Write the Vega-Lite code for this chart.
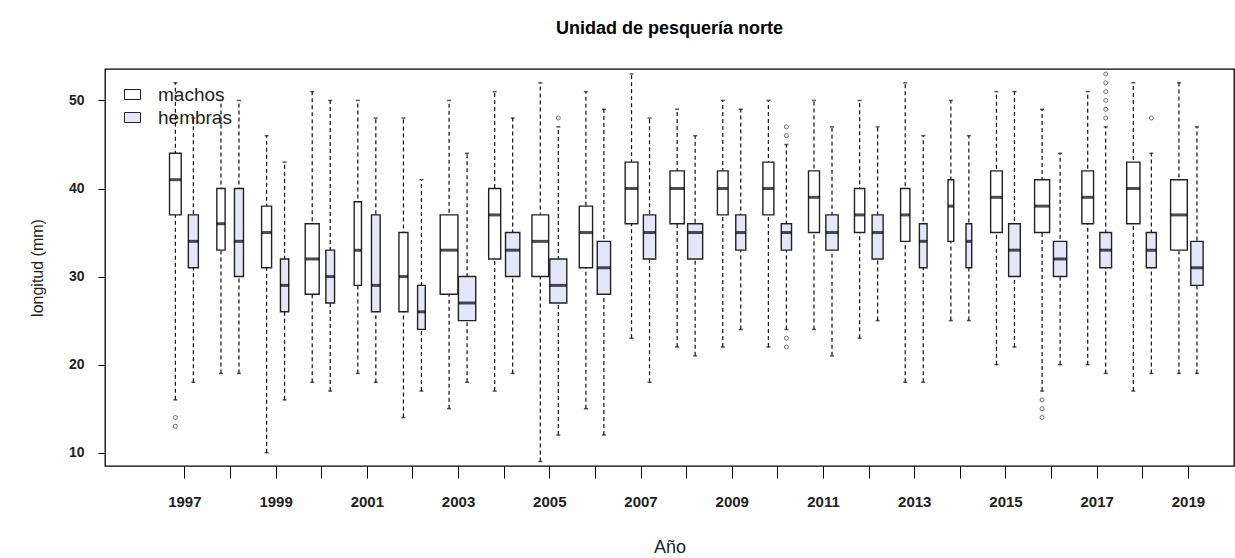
{
  "$schema": "https://vega.github.io/schema/vega-lite/v6.json",
  "width": 1129,
  "height": 397,
  "autosize": {"type": "none"},
  "padding": {"left": 105, "top": 69, "right": 1, "bottom": 92},
  "background": "white",
  "title": {
    "text": "Unidad de pesquería norte",
    "font": "Liberation Sans",
    "fontSize": 18,
    "fontWeight": "bold",
    "color": "black",
    "anchor": "middle",
    "frame": "group",
    "offset": 31
  },
  "config": {
    "view": {"stroke": "black", "strokeWidth": 1.3},
    "font": "Liberation Sans",
    "axisY": {
      "tickCount": 5,
      "domain": false,
      "grid": false,
      "tickColor": "black",
      "tickSize": 7,
      "tickWidth": 1,
      "labelFont": "Liberation Sans",
      "labelFontWeight": "bold",
      "labelFontSize": 14,
      "labelColor": "#222",
      "labelPadding": 14,
      "titleFont": "Liberation Sans",
      "titleFontWeight": "normal",
      "titleFontSize": 16,
      "titleColor": "#222",
      "titlePadding": 23
    },
    "axisX": {
      "domain": false,
      "grid": false,
      "tickColor": "black",
      "tickSize": 12,
      "tickWidth": 1,
      "labelFont": "Liberation Sans",
      "labelFontWeight": "bold",
      "labelFontSize": 15,
      "labelColor": "#222",
      "labelPadding": 16,
      "labelFlush": false,
      "labelOverlap": false,
      "titleFont": "Liberation Sans",
      "titleFontWeight": "normal",
      "titleFontSize": 18,
      "titleColor": "#222",
      "titlePadding": 29
    }
  },
  "datasets": {
    "cajas": [
      {"anio": 1997, "sexo": "machos", "lo": 16, "q1": 37, "med": 41, "q3": 44, "hi": 52, "n": 422},
      {"anio": 1997, "sexo": "hembras", "lo": 18, "q1": 31, "med": 34, "q3": 37, "hi": 48, "n": 309},
      {"anio": 1998, "sexo": "machos", "lo": 19, "q1": 33, "med": 36, "q3": 40, "hi": 50, "n": 213},
      {"anio": 1998, "sexo": "hembras", "lo": 19, "q1": 30, "med": 34, "q3": 40, "hi": 50, "n": 250},
      {"anio": 1999, "sexo": "machos", "lo": 10, "q1": 31, "med": 35, "q3": 38, "hi": 46, "n": 309},
      {"anio": 1999, "sexo": "hembras", "lo": 16, "q1": 26, "med": 29, "q3": 32, "hi": 43, "n": 213},
      {"anio": 2000, "sexo": "machos", "lo": 18, "q1": 28, "med": 32, "q3": 36, "hi": 51, "n": 605},
      {"anio": 2000, "sexo": "hembras", "lo": 17, "q1": 27, "med": 30, "q3": 33, "hi": 50, "n": 234},
      {"anio": 2001, "sexo": "machos", "lo": 19, "q1": 29, "med": 33, "q3": 38.5, "hi": 50, "n": 164},
      {"anio": 2001, "sexo": "hembras", "lo": 18, "q1": 26, "med": 29, "q3": 37, "hi": 48, "n": 234},
      {"anio": 2002, "sexo": "machos", "lo": 14, "q1": 26, "med": 30, "q3": 35, "hi": 48, "n": 250},
      {"anio": 2002, "sexo": "hembras", "lo": 17, "q1": 24, "med": 26, "q3": 29, "hi": 41, "n": 183},
      {"anio": 2003, "sexo": "machos", "lo": 15, "q1": 28, "med": 33, "q3": 37, "hi": 50, "n": 967},
      {"anio": 2003, "sexo": "hembras", "lo": 18, "q1": 25, "med": 27, "q3": 30, "hi": 44, "n": 924},
      {"anio": 2004, "sexo": "machos", "lo": 17, "q1": 32, "med": 37, "q3": 40, "hi": 51, "n": 444},
      {"anio": 2004, "sexo": "hembras", "lo": 19, "q1": 30, "med": 33, "q3": 35, "hi": 48, "n": 631},
      {"anio": 2005, "sexo": "machos", "lo": 9, "q1": 30, "med": 34, "q3": 37, "hi": 52, "n": 861},
      {"anio": 2005, "sexo": "hembras", "lo": 12, "q1": 27, "med": 29, "q3": 32, "hi": 47, "n": 892},
      {"anio": 2006, "sexo": "machos", "lo": 15, "q1": 31, "med": 35, "q3": 38, "hi": 51, "n": 546},
      {"anio": 2006, "sexo": "hembras", "lo": 12, "q1": 28, "med": 31, "q3": 34, "hi": 49, "n": 546},
      {"anio": 2007, "sexo": "machos", "lo": 23, "q1": 36, "med": 40, "q3": 43, "hi": 53, "n": 498},
      {"anio": 2007, "sexo": "hembras", "lo": 18, "q1": 32, "med": 35, "q3": 37, "hi": 48, "n": 467},
      {"anio": 2008, "sexo": "machos", "lo": 22, "q1": 36, "med": 40, "q3": 42, "hi": 49, "n": 631},
      {"anio": 2008, "sexo": "hembras", "lo": 21, "q1": 32, "med": 35, "q3": 36, "hi": 46, "n": 694},
      {"anio": 2009, "sexo": "machos", "lo": 22, "q1": 37, "med": 40, "q3": 42, "hi": 50, "n": 353},
      {"anio": 2009, "sexo": "hembras", "lo": 24, "q1": 33, "med": 35, "q3": 37, "hi": 49, "n": 309},
      {"anio": 2010, "sexo": "machos", "lo": 22, "q1": 37, "med": 40, "q3": 43, "hi": 50, "n": 373},
      {"anio": 2010, "sexo": "hembras", "lo": 24, "q1": 33, "med": 35, "q3": 36, "hi": 45, "n": 327},
      {"anio": 2011, "sexo": "machos", "lo": 24, "q1": 35, "med": 39, "q3": 42, "hi": 50, "n": 373},
      {"anio": 2011, "sexo": "hembras", "lo": 21, "q1": 33, "med": 35, "q3": 37, "hi": 47, "n": 467},
      {"anio": 2012, "sexo": "machos", "lo": 23, "q1": 35, "med": 37, "q3": 40, "hi": 50, "n": 327},
      {"anio": 2012, "sexo": "hembras", "lo": 25, "q1": 32, "med": 35, "q3": 37, "hi": 47, "n": 373},
      {"anio": 2013, "sexo": "machos", "lo": 18, "q1": 34, "med": 37, "q3": 40, "hi": 52, "n": 267},
      {"anio": 2013, "sexo": "hembras", "lo": 18, "q1": 31, "med": 34, "q3": 36, "hi": 46, "n": 183},
      {"anio": 2014, "sexo": "machos", "lo": 25, "q1": 34, "med": 38, "q3": 41, "hi": 50, "n": 100},
      {"anio": 2014, "sexo": "hembras", "lo": 25, "q1": 31, "med": 34, "q3": 36, "hi": 46, "n": 100},
      {"anio": 2015, "sexo": "machos", "lo": 20, "q1": 35, "med": 39, "q3": 42, "hi": 51, "n": 422},
      {"anio": 2015, "sexo": "hembras", "lo": 22, "q1": 30, "med": 33, "q3": 36, "hi": 51, "n": 422},
      {"anio": 2016, "sexo": "machos", "lo": 17, "q1": 35, "med": 38, "q3": 41, "hi": 49, "n": 694},
      {"anio": 2016, "sexo": "hembras", "lo": 20, "q1": 30, "med": 32, "q3": 34, "hi": 44, "n": 546},
      {"anio": 2017, "sexo": "machos", "lo": 20, "q1": 36, "med": 39, "q3": 42, "hi": 51, "n": 422},
      {"anio": 2017, "sexo": "hembras", "lo": 19, "q1": 31, "med": 33, "q3": 35, "hi": 47, "n": 422},
      {"anio": 2018, "sexo": "machos", "lo": 17, "q1": 36, "med": 40, "q3": 43, "hi": 52, "n": 546},
      {"anio": 2018, "sexo": "hembras", "lo": 19, "q1": 31, "med": 33, "q3": 35, "hi": 44, "n": 309},
      {"anio": 2019, "sexo": "machos", "lo": 19, "q1": 33, "med": 37, "q3": 41, "hi": 52, "n": 861},
      {"anio": 2019, "sexo": "hembras", "lo": 19, "q1": 29, "med": 31, "q3": 34, "hi": 47, "n": 467}
    ],
    "atipicos": [
      {"anio": 1997, "sexo": "machos", "valor": 14},
      {"anio": 1997, "sexo": "machos", "valor": 13},
      {"anio": 2005, "sexo": "hembras", "valor": 48},
      {"anio": 2010, "sexo": "hembras", "valor": 47},
      {"anio": 2010, "sexo": "hembras", "valor": 46},
      {"anio": 2010, "sexo": "hembras", "valor": 23},
      {"anio": 2010, "sexo": "hembras", "valor": 22},
      {"anio": 2016, "sexo": "machos", "valor": 16},
      {"anio": 2016, "sexo": "machos", "valor": 15},
      {"anio": 2016, "sexo": "machos", "valor": 14},
      {"anio": 2017, "sexo": "hembras", "valor": 53},
      {"anio": 2017, "sexo": "hembras", "valor": 52},
      {"anio": 2017, "sexo": "hembras", "valor": 51},
      {"anio": 2017, "sexo": "hembras", "valor": 50},
      {"anio": 2017, "sexo": "hembras", "valor": 49},
      {"anio": 2017, "sexo": "hembras", "valor": 48},
      {"anio": 2018, "sexo": "hembras", "valor": 48}
    ]
  },
  "data": {"name": "cajas"},
  "encoding": {
    "x": {
      "field": "anio",
      "type": "quantitative",
      "title": "Año",
      "scale": {"domain": [1995.37, 2019.9], "nice": false, "zero": false},
      "axis": {
        "values": [1997, 1998, 1999, 2000, 2001, 2002, 2003, 2004, 2005, 2006, 2007, 2008, 2009, 2010, 2011, 2012, 2013, 2014, 2015, 2016, 2017, 2018, 2019],
        "format": "d",
        "labelExpr": "datum.value % 2 === 1 ? datum.label : ''"
      }
    }
  },
  "layer": [
    {
      "transform": [{"filter": "datum.sexo === 'machos'"}],
      "layer": [
        {
          "mark": {"type": "rule", "xOffset": -9, "strokeDash": [4, 3], "strokeWidth": 1.2, "color": "#111"},
          "encoding": {
            "y": {"field": "lo", "type": "quantitative", "title": "longitud (mm)", "scale": {"domain": [8.49, 53.57], "nice": false, "zero": false}},
            "y2": {"field": "hi"}
          }
        },
        {
          "mark": {"type": "bar", "xOffset": -9, "stroke": "#222", "strokeWidth": 1.4},
          "encoding": {
            "y": {"field": "q1", "type": "quantitative", "title": "longitud (mm)", "scale": {"domain": [8.49, 53.57], "nice": false, "zero": false}},
            "y2": {"field": "q3"},
            "size": {"field": "n", "type": "quantitative", "scale": {"type": "sqrt", "domain": [0, 1000], "range": [0, 18]}, "legend": null},
            "color": {
              "field": "sexo",
              "type": "nominal",
              "scale": {"domain": ["machos", "hembras"], "range": ["white", "#E6E6FA"]},
              "legend": {
                "title": null,
                "orient": "none",
                "legendX": 17,
                "legendY": 15,
                "padding": 0,
                "symbolType": "M-0.8,-0.5H0.8V0.5H-0.8Z",
                "symbolSize": 400,
                "symbolStrokeColor": "black",
                "symbolStrokeWidth": 1,
                "symbolOpacity": 1,
                "labelFont": "Liberation Sans",
                "labelFontSize": 19,
                "labelColor": "#222",
                "labelOffset": 15,
                "rowPadding": 2
              }
            }
          }
        },
        {
          "mark": {"type": "tick", "orient": "horizontal", "xOffset": -9, "thickness": 3, "color": "black"},
          "encoding": {
            "y": {"field": "med", "type": "quantitative", "title": "longitud (mm)", "scale": {"domain": [8.49, 53.57], "nice": false, "zero": false}},
            "size": {"field": "n", "type": "quantitative", "scale": {"type": "sqrt", "domain": [0, 1000], "range": [0, 18]}, "legend": null}
          }
        },
        {
          "mark": {"type": "tick", "orient": "horizontal", "xOffset": -9, "thickness": 1.5, "size": 4, "color": "#111"},
          "encoding": {
            "y": {"field": "hi", "type": "quantitative", "title": "longitud (mm)", "scale": {"domain": [8.49, 53.57], "nice": false, "zero": false}}
          }
        },
        {
          "mark": {"type": "tick", "orient": "horizontal", "xOffset": -9, "thickness": 1.5, "size": 4, "color": "#111"},
          "encoding": {
            "y": {"field": "lo", "type": "quantitative", "title": "longitud (mm)", "scale": {"domain": [8.49, 53.57], "nice": false, "zero": false}}
          }
        }
      ]
    },
    {
      "transform": [{"filter": "datum.sexo === 'hembras'"}],
      "layer": [
        {
          "mark": {"type": "rule", "xOffset": 9, "strokeDash": [4, 3], "strokeWidth": 1.2, "color": "#111"},
          "encoding": {
            "y": {"field": "lo", "type": "quantitative", "title": "longitud (mm)", "scale": {"domain": [8.49, 53.57], "nice": false, "zero": false}},
            "y2": {"field": "hi"}
          }
        },
        {
          "mark": {"type": "bar", "xOffset": 9, "stroke": "#222", "strokeWidth": 1.4},
          "encoding": {
            "y": {"field": "q1", "type": "quantitative", "title": "longitud (mm)", "scale": {"domain": [8.49, 53.57], "nice": false, "zero": false}},
            "y2": {"field": "q3"},
            "size": {"field": "n", "type": "quantitative", "scale": {"type": "sqrt", "domain": [0, 1000], "range": [0, 18]}, "legend": null},
            "color": {"field": "sexo", "type": "nominal", "scale": {"domain": ["machos", "hembras"], "range": ["white", "#E6E6FA"]}}
          }
        },
        {
          "mark": {"type": "tick", "orient": "horizontal", "xOffset": 9, "thickness": 3, "color": "black"},
          "encoding": {
            "y": {"field": "med", "type": "quantitative", "title": "longitud (mm)", "scale": {"domain": [8.49, 53.57], "nice": false, "zero": false}},
            "size": {"field": "n", "type": "quantitative", "scale": {"type": "sqrt", "domain": [0, 1000], "range": [0, 18]}, "legend": null}
          }
        },
        {
          "mark": {"type": "tick", "orient": "horizontal", "xOffset": 9, "thickness": 1.5, "size": 4, "color": "#111"},
          "encoding": {
            "y": {"field": "hi", "type": "quantitative", "title": "longitud (mm)", "scale": {"domain": [8.49, 53.57], "nice": false, "zero": false}}
          }
        },
        {
          "mark": {"type": "tick", "orient": "horizontal", "xOffset": 9, "thickness": 1.5, "size": 4, "color": "#111"},
          "encoding": {
            "y": {"field": "lo", "type": "quantitative", "title": "longitud (mm)", "scale": {"domain": [8.49, 53.57], "nice": false, "zero": false}}
          }
        }
      ]
    },
    {
      "data": {"name": "atipicos"},
      "transform": [{"filter": "datum.sexo === 'machos'"}],
      "mark": {"type": "point", "shape": "circle", "filled": false, "xOffset": -9, "size": 16, "strokeWidth": 1, "color": "#333"},
      "encoding": {
        "y": {"field": "valor", "type": "quantitative", "title": "longitud (mm)", "scale": {"domain": [8.49, 53.57], "nice": false, "zero": false}}
      }
    },
    {
      "data": {"name": "atipicos"},
      "transform": [{"filter": "datum.sexo === 'hembras'"}],
      "mark": {"type": "point", "shape": "circle", "filled": false, "xOffset": 9, "size": 16, "strokeWidth": 1, "color": "#333"},
      "encoding": {
        "y": {"field": "valor", "type": "quantitative", "title": "longitud (mm)", "scale": {"domain": [8.49, 53.57], "nice": false, "zero": false}}
      }
    }
  ]
}
